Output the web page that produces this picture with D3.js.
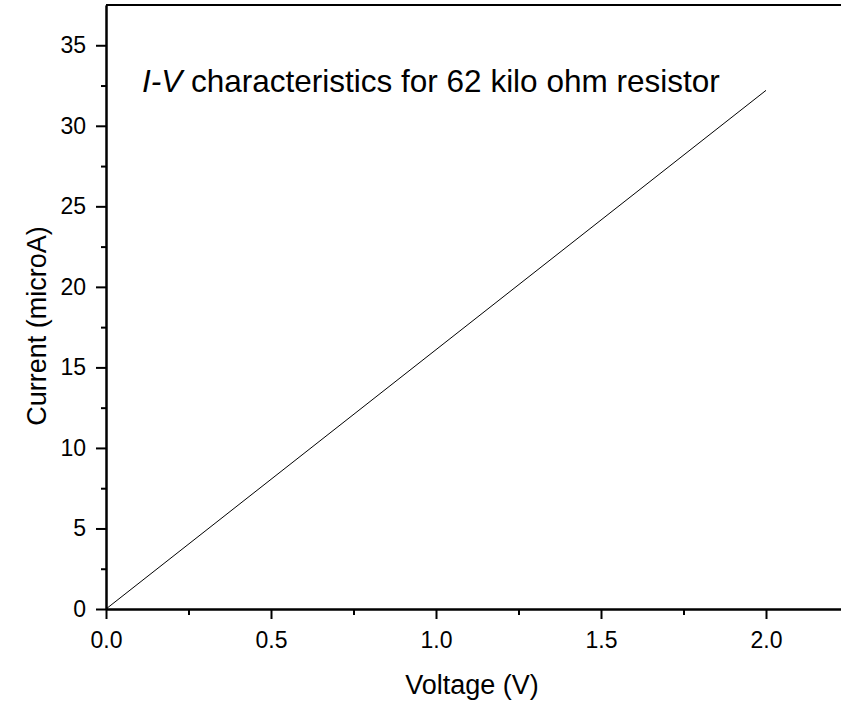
<!DOCTYPE html>
<html>
<head>
<meta charset="utf-8">
<script src="https://cdn.jsdelivr.net/npm/d3@7"></script>
<style>
  body { margin: 0; background: #fff; }
  svg { display: block; font-family: "Liberation Sans", Arial, sans-serif; }
  .axis path, .axis line { stroke: #000; stroke-width: 2px; }
</style>
</head>
<body>
<div id="root"></div>
<script>
// data
const voltage = [0, 0.5, 1.0, 1.5, 2.0];
const current = [0, 8.05, 16.1, 24.15, 32.2];

const xMajor = [0, 0.5, 1.0, 1.5, 2.0];
const xMinor = [0.25, 0.75, 1.25, 1.75, 2.25];
const yMajor = [0, 5, 10, 15, 20, 25, 30, 35];
const yMinor = [2.5, 7.5, 12.5, 17.5, 22.5, 27.5, 32.5];

const W = 841, H = 704;
const plotLeft = 106, plotBottom = 609, plotTop = 5;

const svg = d3.select("#root").append("svg")
    .attr("width", W)
    .attr("height", H);

const x = d3.scaleLinear().domain([0, 2.25]).range([plotLeft, plotLeft + 2.25 * 330]);
const y = d3.scaleLinear().domain([0, 37.5]).range([plotBottom, plotTop]);

// top frame line
svg.append("line")
    .attr("x1", plotLeft).attr("x2", x(2.25))
    .attr("y1", y(37.5)).attr("y2", y(37.5))
    .attr("stroke", "#000").attr("stroke-width", 2);

// minor ticks
svg.append("g")
    .attr("class", "axis")
    .attr("transform", "translate(0," + plotBottom + ")")
    .call(d3.axisBottom(x).tickValues(xMinor).tickSize(6).tickSizeOuter(0).tickFormat(""));
svg.append("g")
    .attr("class", "axis")
    .attr("transform", "translate(" + plotLeft + ",0)")
    .call(d3.axisLeft(y).tickValues(yMinor).tickSize(5).tickSizeOuter(0).tickFormat(""));

// major ticks
const xAxis = svg.append("g")
    .attr("class", "axis")
    .attr("transform", "translate(0," + plotBottom + ")")
    .call(d3.axisBottom(x).tickValues(xMajor).tickSize(10).tickSizeOuter(0).tickPadding(13).tickFormat(d3.format(".1f")));
const yAxis = svg.append("g")
    .attr("class", "axis")
    .attr("transform", "translate(" + plotLeft + ",0)")
    .call(d3.axisLeft(y).tickValues(yMajor).tickSize(10).tickSizeOuter(0).tickPadding(10).tickFormat(d3.format("d")));

[xAxis, yAxis].forEach(a => a.selectAll("text")
    .style("font-family", '"Liberation Sans", Arial, sans-serif')
    .style("font-size", "23px")
    .style("fill", "#000"));

// line
const line = d3.line()
    .x((d, i) => x(voltage[i]))
    .y(d => y(d));

svg.append("path")
    .datum(current)
    .attr("d", line)
    .attr("fill", "none")
    .attr("stroke", "#000")
    .attr("stroke-width", 1);

// title
const title = svg.append("text")
    .attr("x", 142)
    .attr("y", 92)
    .style("font-size", "31.5px");
title.append("tspan").style("font-style", "italic").text("I-V");
title.append("tspan").text(" characteristics for 62 kilo ohm resistor");

// axis labels
svg.append("text")
    .attr("x", 472)
    .attr("y", 694)
    .attr("text-anchor", "middle")
    .style("font-size", "27px")
    .text("Voltage (V)");

svg.append("text")
    .attr("transform", "translate(46,326) rotate(-90)")
    .attr("text-anchor", "middle")
    .style("font-size", "27px")
    .text("Current (microA)");
</script>
</body>
</html>
